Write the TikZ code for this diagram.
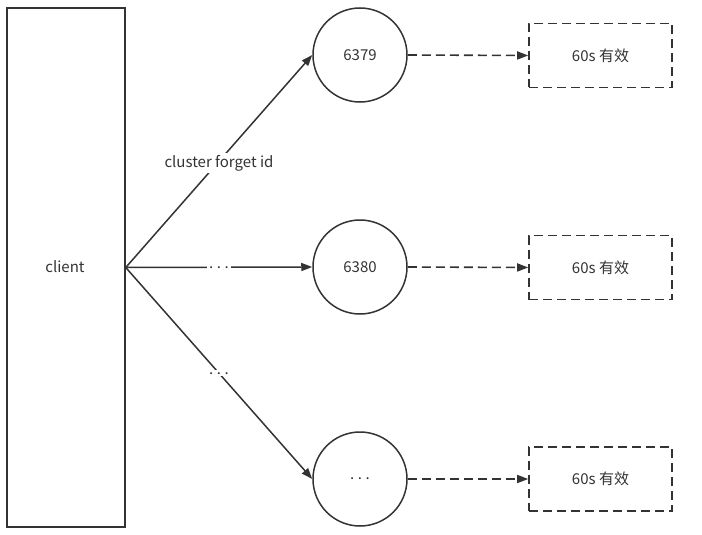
\documentclass[tikz,border=0pt]{standalone}
\usepackage{fontspec}
\setmainfont{Noto Sans CJK SC}
\usetikzlibrary{arrows.meta}
\definecolor{ink}{HTML}{333333}
\newcommand{\ellip}{.\hspace{3.5pt}.\hspace{3.5pt}.}
\begin{document}
\begin{tikzpicture}[x=1pt,y=-1pt,
  every node/.style={font=\fontsize{15}{18}\selectfont, text=ink},
  line/.style={draw=ink, line width=1.5pt},
  tip/.style={-{Triangle[length=11pt,width=8pt]}},
  dashes/.style={dash pattern=on 9pt off 5pt},
  srv/.style={circle, line, minimum size=94pt, inner sep=0pt},
  ttlbox/.style={draw=ink, line width=1.6pt, dashes,
    minimum width=143pt, minimum height=64pt, inner sep=0pt},
  lbl/.style={fill=white, inner sep=2pt}]
\useasboundingbox (0,0) rectangle (702,535);
% client column
\node[line, minimum width=118pt, minimum height=519pt, inner sep=0pt] (client) at (66,267.5) {};
\node at (65,267) {client};
% redis nodes
\node[srv] (n1) at (360,55) {6379};
\node[srv] (n2) at (360,267) {6380};
\node[srv] (n3) at (360,479) {\ellip};
% expiry boxes
\node[ttlbox] (t1) at (600.5,55.5) {60s 有效};
\node[ttlbox] (t2) at (600.5,267.5) {60s 有效};
\node[ttlbox] (t3) at (600.5,479) {60s 有效};
% forget broadcast
\coordinate (src) at (client.east);
\draw[line, tip] (src) -- node[lbl, yshift=-2pt] {cluster forget id} (n1.west);
\draw[line, tip] (src) -- node[lbl] {\ellip} (n2.west);
\draw[line, tip] (src) -- node[lbl] {\ellip} (n3.west);
% expiry links
\foreach \i in {1,2,3}
  \draw[line, line width=1.6pt, tip, dashes] (n\i.east) -- (t\i.west);
\end{tikzpicture}
\end{document}
